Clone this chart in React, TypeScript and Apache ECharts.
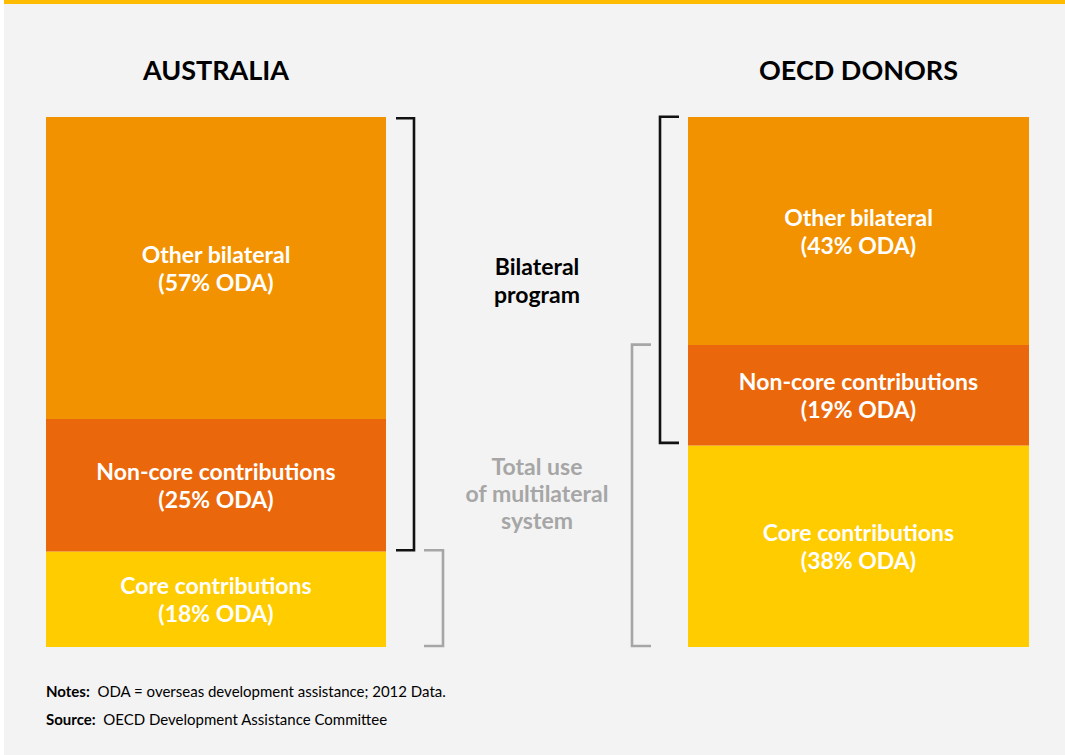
import React, { useEffect, useRef } from "react";
import * as echarts from "echarts";

const categories = ["AUSTRALIA", "OECD DONORS"];
const segmentNames = ["Core contributions", "Non-core contributions", "Other bilateral"];
const coreContributions = [18, 38];
const nonCoreContributions = [25, 19];
const otherBilateral = [57, 43];
const segmentColors = ["#ffcc00", "#eb670b", "#f39200"];

const FONT = "Lato";

export default function App() {
  const ref = useRef<HTMLDivElement>(null);
  useEffect(() => {
    if (!ref.current) return;
    const chart = echarts.init(ref.current, undefined, { renderer: "svg" });
    const values = [coreContributions, nonCoreContributions, otherBilateral];
    const grids = [
      { left: 46, top: 117, width: 340, bottom: 108 },
      { left: 688, top: 117, width: 341, bottom: 108 },
    ];
    const series: any[] = [];
    categories.forEach((_, gi) => {
      segmentNames.forEach((name, si) => {
        series.push({
          type: "bar",
          name,
          stack: "s" + gi,
          xAxisIndex: gi,
          yAxisIndex: gi,
          barWidth: "100%",
          data: [values[si][gi]],
          itemStyle: { color: segmentColors[si] },
          label: {
            show: true,
            position: "inside",
            formatter: (p: any) => `${name}\n(${p.value}% ODA)`,
            color: "#ffffff",
            fontFamily: FONT,
            fontWeight: "bold",
            fontSize: 23,
            lineHeight: 28,
          },
        });
      });
    });
    chart.setOption({
      animation: false,
      backgroundColor: "#ffffff",
      grid: grids,
      xAxis: categories.map((c, gi) => ({
        type: "category",
        gridIndex: gi,
        position: "top",
        data: [c],
        axisLine: { show: false },
        axisTick: { show: false },
        axisLabel: {
          margin: 34,
          color: "#000000",
          fontFamily: FONT,
          fontWeight: "bold",
          fontSize: 27,
        },
      })),
      yAxis: categories.map((_, gi) => ({
        type: "value",
        gridIndex: gi,
        min: 0,
        max: 100,
        show: false,
        splitLine: { show: false },
      })),
      series,
    });

    const py = (gi: number, v: number) => chart.convertToPixel({ yAxisIndex: gi }, v) as number;
    const ausCore = coreContributions[0];
    const oecdMulti = coreContributions[1] + nonCoreContributions[1];
    const oecdCore = coreContributions[1];
    const black = { stroke: "#111111", lineWidth: 2.6, fill: null };
    const gray = { stroke: "#a6a6a6", lineWidth: 2.6, fill: null };
    const bracket = (x1: number, x2: number, y1: number, y2: number, style: any) => ({
      type: "polyline",
      shape: { points: [[x1, y1], [x2, y1], [x2, y2], [x1, y2]] },
      style,
      z: 10,
    });

    chart.setOption({
      graphic: [
        { type: "rect", shape: { x: 4, y: 0, width: 1061, height: 755 }, style: { fill: "#f3f3f3" }, z: -10, silent: true },
        { type: "rect", shape: { x: 4, y: 0, width: 1061, height: 4 }, style: { fill: "#ffbb00" }, z: -9, silent: true },
        bracket(396, 414, py(0, 100) + 1.3, py(0, ausCore) - 1.3, black),
        bracket(424, 443, py(0, ausCore) - 1.3, py(0, 0) - 1, gray),
        bracket(679, 660, py(1, 100) - 0.3, py(1, oecdCore) - 2.7, black),
        bracket(651, 632, py(1, oecdMulti) - 0.3, py(1, 0) - 1, gray),
        {
          type: "text",
          x: 537,
          y: 280,
          style: {
            text: "Bilateral\nprogram",
            fill: "#000000",
            font: `bold 23px ${FONT}`,
            lineHeight: 28,
            textAlign: "center",
            textVerticalAlign: "middle",
          },
        },
        {
          type: "text",
          x: 537,
          y: 493,
          style: {
            text: "Total use\nof multilateral\nsystem",
            fill: "#a6a6a6",
            font: `bold 23px ${FONT}`,
            lineHeight: 27,
            textAlign: "center",
            textVerticalAlign: "middle",
          },
        },
        {
          type: "text",
          x: 46,
          y: 691,
          style: {
            text: "{b|Notes:}  ODA = overseas development assistance; 2012 Data.",
            rich: { b: { fontWeight: "bold", fontFamily: FONT, fontSize: 15, fill: "#000" } },
            fill: "#000000",
            font: `15px ${FONT}`,
            textVerticalAlign: "middle",
          },
        },
        {
          type: "text",
          x: 46,
          y: 719,
          style: {
            text: "{b|Source:}  OECD Development Assistance Committee",
            rich: { b: { fontWeight: "bold", fontFamily: FONT, fontSize: 15, fill: "#000" } },
            fill: "#000000",
            font: `15px ${FONT}`,
            textVerticalAlign: "middle",
          },
        },
      ],
    });
    return () => chart.dispose();
  }, []);
  return (
    <div
      ref={ref}
      style={{ position: "absolute", left: 0, top: 0, width: 1065, height: 755 }}
    />
  );
}
